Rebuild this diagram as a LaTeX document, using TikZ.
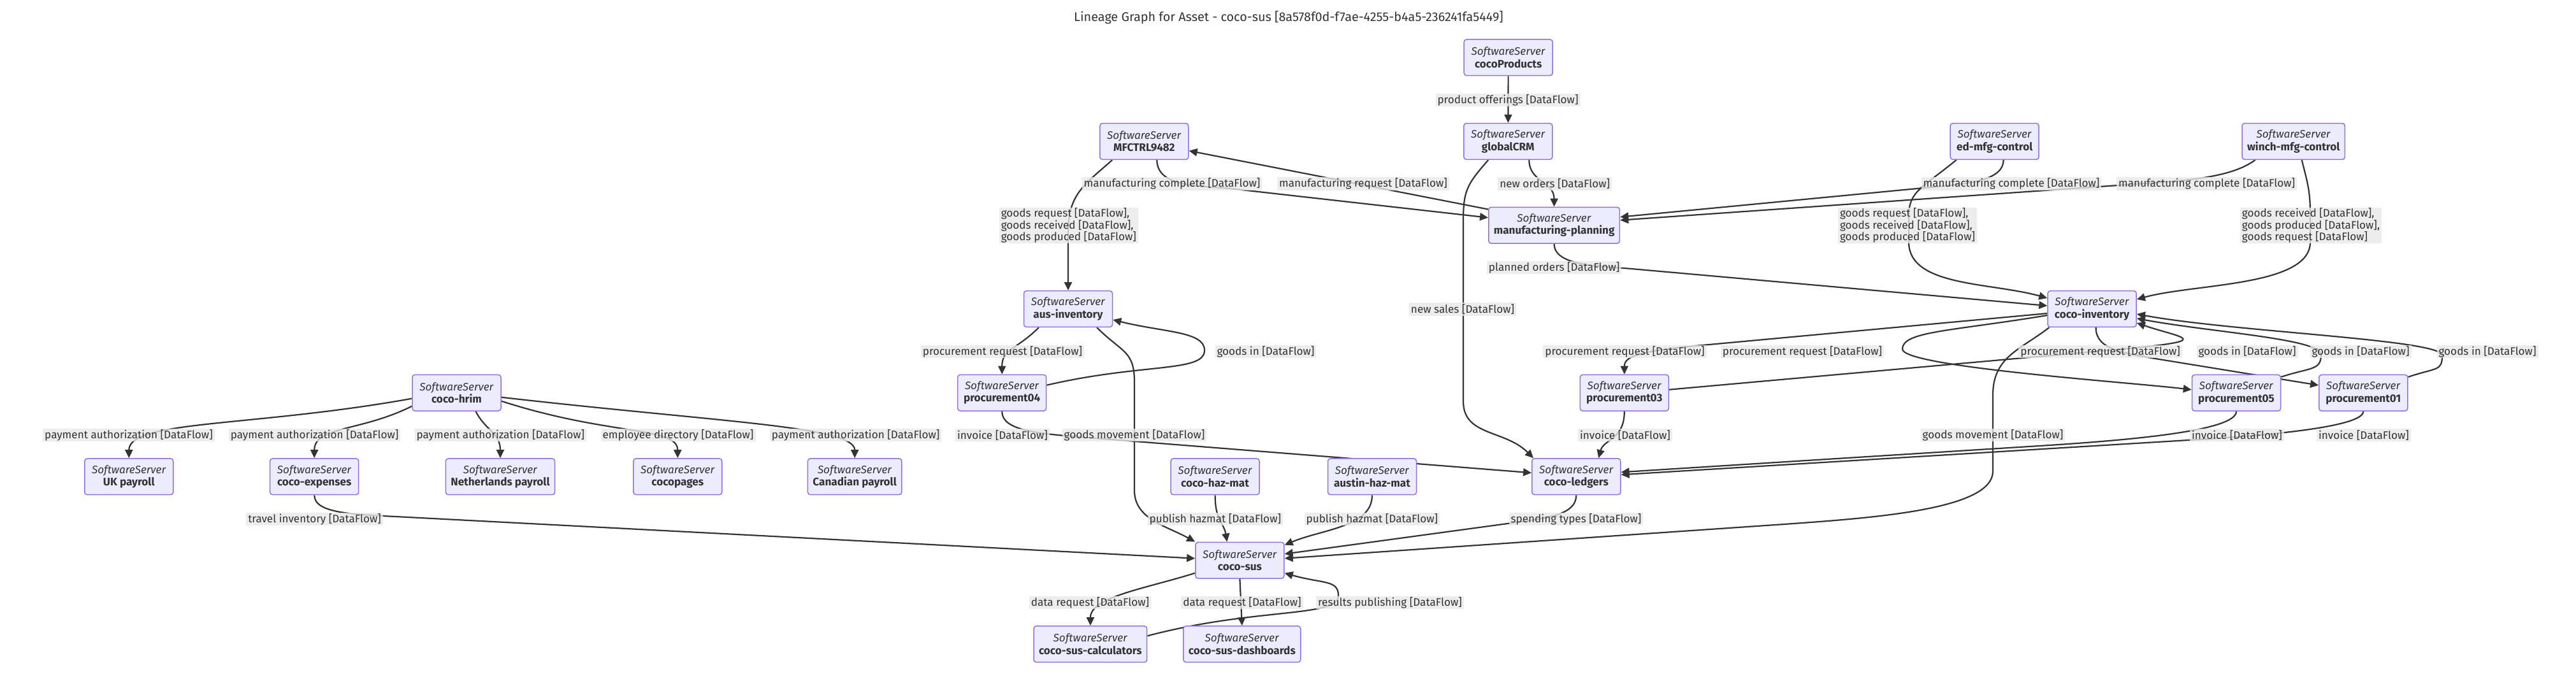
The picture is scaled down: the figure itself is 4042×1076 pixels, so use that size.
\documentclass[tikz,border=0pt]{standalone}
\usepackage{fontspec}
\setmainfont{Fira Sans}
\usetikzlibrary{arrows.meta, backgrounds}
\definecolor{cnode}{HTML}{ECECFF}
\definecolor{cborder}{HTML}{9370DB}
\definecolor{cline}{HTML}{333333}
\definecolor{clabel}{HTML}{E8E8E8}
\definecolor{ctext}{HTML}{333333}
\tikzset{
  every picture/.style={line width=2bp},
  box/.style={draw=cborder, fill=cnode, line width=1.5bp, rounded corners=4bp, align=center, text=ctext,
    inner xsep=8bp, inner ysep=0pt, minimum width=139bp, minimum height=56.7bp, font=\fontsize{17.2}{19.5}\selectfont},
  arrow/.style={-{Triangle[length=13bp, width=12bp]}, draw=cline, line width=2.2bp},
  title/.style={font=\fontsize{19.9}{23}\selectfont, text=ctext},
  note/.style={fill=clabel, fill opacity=0.8, text opacity=1, text=ctext, align=left, inner xsep=3bp, inner ysep=1bp,
    minimum height=20.6bp, font=\fontsize{17.2}{18.3}\selectfont},
}

\begin{document}
\begin{tikzpicture}[x=1bp, y=-1bp]
  \newcommand{\srv}[1]{\textit{SoftwareServer}\\\textbf{#1}}
  \useasboundingbox (0,0) rectangle (4042,1076);
  \node[title] (ttl) at (2022,28) {Lineage Graph for Asset - coco-sus [8a578f0d-f7ae-4255-b4a5-236241fa5449]};

  % servers, row by row
  \node[box] (cprod) at (2366.7,90.3) {\srv{cocoProducts}};
  \node[box] (mfc) at (1795.3,222) {\srv{MFCTRL9482}};
  \node[box] (gcrm) at (2366.3,222) {\srv{globalCRM}};
  \node[box] (edmfg) at (3129.7,222) {\srv{ed-mfg-control}};
  \node[box] (winch) at (3598.7,222) {\srv{winch-mfg-control}};
  \node[box] (mplan) at (2438.6,353.7) {\srv{manufacturing-planning}};
  \node[box] (ausinv) at (1676,485) {\srv{aus-inventory}};
  \node[box] (cinv) at (3282.6,485) {\srv{coco-inventory}};
  \node[box] (hrim) at (716.5,616.7) {\srv{coco-hrim}};
  \node[box] (p04) at (1572.2,616.7) {\srv{procurement04}};
  \node[box] (p03) at (2548.8,616.7) {\srv{procurement03}};
  \node[box] (p05) at (3509,616.8) {\srv{procurement05}};
  \node[box] (p01) at (3708.3,616.8) {\srv{procurement01}};
  \node[box] (ukpay) at (202.3,748.3) {\srv{UK payroll}};
  \node[box] (exp) at (493.2,748.3) {\srv{coco-expenses}};
  \node[box] (nlpay) at (785,748.3) {\srv{Netherlands payroll}};
  \node[box] (cpages) at (1063.3,748.3) {\srv{cocopages}};
  \node[box] (capay) at (1341.2,748.3) {\srv{Canadian payroll}};
  \node[box] (hazmat) at (1906.6,748.3) {\srv{coco-haz-mat}};
  \node[box] (austin) at (2153,748.3) {\srv{austin-haz-mat}};
  \node[box] (ledg) at (2473.3,748.3) {\srv{coco-ledgers}};
  \node[box] (sus) at (1945.4,879.7) {\srv{coco-sus}};
  \node[box] (calc) at (1710.9,1011.3) {\srv{coco-sus-calculators}};
  \node[box] (dash) at (1948.8,1011.3) {\srv{coco-sus-dashboards}};

  % flow labels
  \node[note] (lpo) at (2366,157) {product offerings [DataFlow]};
  \node[note] (lmc1) at (1839,288.5) {manufacturing complete [DataFlow]};
  \node[note] (lmr) at (2139,288.5) {manufacturing request [DataFlow]};
  \node[note] (lno) at (2439.7,288.5) {new orders [DataFlow]};
  \node[note] (lmc2) at (3156,288.5) {manufacturing complete [DataFlow]};
  \node[note] (lmc3) at (3462.6,288.5) {manufacturing complete [DataFlow]};
  \node[note] (lg1) at (1676.8,354) {goods request [DataFlow],\\goods received [DataFlow],\\goods produced [DataFlow]};
  \node[note] (lg2) at (2993,354) {goods request [DataFlow],\\goods received [DataFlow],\\goods produced [DataFlow]};
  \node[note] (lg3) at (3626,354) {goods received [DataFlow],\\goods produced [DataFlow],\\goods request [DataFlow]};
  \node[note] (lpl) at (2438.6,420) {planned orders [DataFlow]};
  \node[note] (lns) at (2295,485.5) {new sales [DataFlow]};
  \node[note] (lpr1) at (1573,552) {procurement request [DataFlow]};
  \node[note] (lgi1) at (1986,552) {goods in [DataFlow]};
  \node[note] (lpr2) at (2549.5,552) {procurement request [DataFlow]};
  \node[note] (lpr3) at (2828,552) {procurement request [DataFlow]};
  \node[note] (lpr4) at (3295.6,552) {procurement request [DataFlow]};
  \node[note] (lgi2) at (3526,552) {goods in [DataFlow]};
  \node[note] (lgi3) at (3704,552) {goods in [DataFlow]};
  \node[note] (lgi4) at (3903,552) {goods in [DataFlow]};
  \node[note] (lpa1) at (202,683) {payment authorization [DataFlow]};
  \node[note] (lpa2) at (493.6,683) {payment authorization [DataFlow]};
  \node[note] (lpa3) at (785.4,683) {payment authorization [DataFlow]};
  \node[note] (led) at (1064,683) {employee directory [DataFlow]};
  \node[note] (lpa4) at (1342.7,683) {payment authorization [DataFlow]};
  \node[note] (linv1) at (1573,683) {invoice [DataFlow]};
  \node[note] (lgm1) at (1780,683) {goods movement [DataFlow]};
  \node[note] (linv2) at (2550,683) {invoice [DataFlow]};
  \node[note] (lgm2) at (3127,683) {goods movement [DataFlow]};
  \node[note] (linv3) at (3510,683) {invoice [DataFlow]};
  \node[note] (linv4) at (3709,683) {invoice [DataFlow]};
  \node[note] (lti) at (493.6,815) {travel inventory [DataFlow]};
  \node[note] (lph1) at (1906.8,815) {publish hazmat [DataFlow]};
  \node[note] (lph2) at (2152.8,815) {publish hazmat [DataFlow]};
  \node[note] (lst) at (2473,815) {spending types [DataFlow]};
  \node[note] (ldr1) at (1710.4,946) {data request [DataFlow]};
  \node[note] (ldr2) at (1948.9,946) {data request [DataFlow]};
  \node[note] (lrp) at (2181,946) {results publishing [DataFlow]};

  \begin{scope}[on background layer]
    % manufacturing side
    \draw[arrow] (cprod) -- (gcrm);
    \draw[arrow] ([xshift=33bp]gcrm.south) .. controls +(0,35) and +(0,-40) .. (mplan.north);
    \draw[arrow] ([xshift=-31bp]gcrm.south) .. controls +(-35,40) and +(0,-50) .. (2296,350) -- (2296,630) .. controls +(0,55) and +(-45,-45) .. ([xshift=3bp]ledg.north west);
    \draw[arrow] ([xshift=20bp]mfc.south) .. controls +(0,45) and +(-40,-4.5) .. (1930,296) -- ([yshift=12bp]mplan.west);
    \draw[arrow] ([yshift=-4bp]mplan.north west) -- ([yshift=-14.7bp]mfc.east);
    \draw[arrow] ([xshift=-50bp]mfc.south) .. controls +(-45,40) and +(0,-60) .. (1676,365) -- (ausinv.north);
    \draw[arrow] ([xshift=14bp]edmfg.south) .. controls +(0,30) and +(45,-4.3) .. (3050,292) -- ([yshift=13bp]mplan.east);
    \draw[arrow] ([xshift=-60bp]winch.south) .. controls +(-30,22) and +(80,-5.6) .. (3380,287) -- ([yshift=8bp]mplan.east);
    \draw[arrow] ([xshift=-60bp]edmfg.south) .. controls +(-55,45) and +(0,-40) .. (2995,340) -- (2995,380) .. controls +(0,70) and +(-90,-25) .. ([yshift=17bp]cinv.west);
    \draw[arrow] ([xshift=13bp]winch.south) .. controls +(10,40) and +(0,-40) .. (3625,340) -- (3625,380) .. controls +(0,70) and +(90,-25) .. ([yshift=15bp]cinv.east);
    \draw[arrow] (mplan.south) .. controls +(0,35) and +(-50,-4.4) .. (2560,422) -- ([yshift=5bp]cinv.west);

    % aus-inventory
    \draw[arrow] ([xshift=-46bp]ausinv.south) .. controls +(-35,35) and +(0,-40) .. (p04.north);
    \draw[arrow] ([yshift=12bp]p04.east) .. controls +(150,-35) and +(0,35) .. (1890,550) .. controls +(0,-30) and +(80,20) .. ([yshift=-17bp]ausinv.east);
    \draw[arrow] ([xshift=45bp]ausinv.south) .. controls +(40,40) and +(0,-50) .. (1780,600) -- (1780,770) .. controls +(0,45) and +(-45,-25) .. (sus.north west);
    \draw[arrow] (p04.south) .. controls +(0,30) and +(-80,-6.4) .. (1706,687) -- ([yshift=6bp]ledg.west);

    % coco-inventory and its procurement servers
    \draw[arrow] ([yshift=-7bp]cinv.west) -- (2660,543) .. controls +(-90,9) and +(0,-28) .. (p03.north);
    \draw[arrow] ([yshift=-10bp]cinv.west) .. controls +(-150,25) and +(0,-28) .. (2985,548) .. controls +(0,28) and +(-100,-12) .. ([yshift=5bp]p05.west);
    \draw[arrow] ([xshift=6bp]cinv.south) .. controls +(0,35) and +(-70,-11.5) .. (3400,566) -- ([yshift=12bp]p01.west);
    \draw[arrow] ([yshift=5bp]p03.east) -- (3330,548) .. controls +(150,-14) and +(70,24) .. ([yshift=-22bp]cinv.east);
    \draw[arrow] ([yshift=25bp]p05.east) .. controls +(45,-15) and +(0,25) .. (3642,557) .. controls +(0,-25) and +(120,22) .. ([yshift=-15bp]cinv.east);
    \draw[arrow] ([yshift=25bp]p01.east) .. controls +(45,-15) and +(0,25) .. (3832,558) .. controls +(0,-25) and +(150,28) .. ([yshift=-8bp]cinv.east);
    \draw[arrow] (p03.south) .. controls +(0,45) and +(8,-30) .. ([xshift=35bp]ledg.north);
    \draw[arrow] (p05.south) .. controls +(0,30) and +(150,-9.4) .. (3200,700) -- ([yshift=7bp]ledg.east);
    \draw[arrow] (p01.south) .. controls +(0,25) and +(100,-6) .. (3450,690) -- ([yshift=3bp]ledg.east);
    \draw[arrow] ([xshift=3bp]cinv.south west) .. controls +(-45,35) and +(0,-60) .. (3127,620) -- (3127,740) .. controls +(0,60) and +(140,-10) .. (2800,823) -- ([yshift=3bp]sus.east);

    % coco-hrim
    \draw[arrow] ([yshift=-9bp]hrim.west) .. controls +(-250,45) and +(0,-60) .. (ukpay.north);
    \draw[arrow] ([yshift=-21bp]hrim.west) .. controls +(-80,40) and +(0,-50) .. (exp.north);
    \draw[arrow] ([xshift=30bp]hrim.south) .. controls +(15,30) and +(0,-40) .. (nlpay.north);
    \draw[arrow] ([yshift=-13bp]hrim.east) .. controls +(170,55) and +(0,-50) .. (cpages.north);
    \draw[arrow] ([yshift=-7bp]hrim.east) .. controls +(350,40) and +(0,-50) .. (capay.north);

    % into and out of coco-sus
    \draw[arrow] (exp.south) .. controls +(0,30) and +(-80,-4.2) .. (640,812) -- ([yshift=3bp]sus.west);
    \draw[arrow] (hazmat.south) .. controls +(0,40) and +(-5,-30) .. ([xshift=-20bp]sus.north);
    \draw[arrow] (austin.south) .. controls +(0,50) and +(60,-25) .. ([yshift=-5bp]sus.north east);
    \draw[arrow] (ledg.south) .. controls +(0,30) and +(50,-7) .. (2380,820) -- ([yshift=10bp]sus.east);
    \draw[arrow] ([yshift=-20bp]sus.west) .. controls +(-80,25) and +(0,-45) .. (calc.north);
    \draw[arrow] (sus.south) -- (dash.north);
    \draw[arrow] ([yshift=13bp]calc.east) .. controls +(170,-45) and +(0,35) .. (2100,935) .. controls +(0,-25) and +(60,17) .. ([yshift=-20bp]sus.east);
  \end{scope}
\end{tikzpicture}
\end{document}
